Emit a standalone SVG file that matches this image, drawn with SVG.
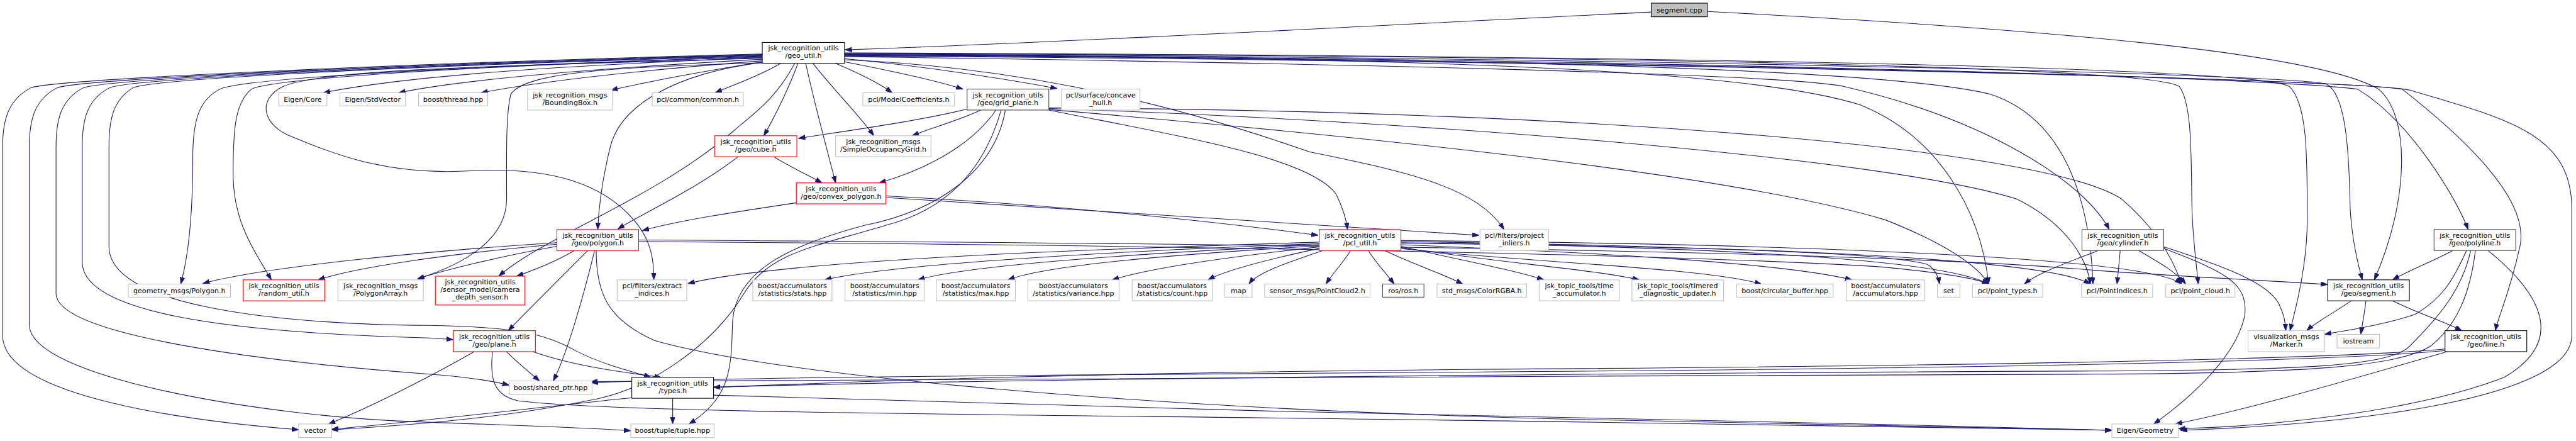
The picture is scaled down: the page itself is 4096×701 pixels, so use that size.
<svg xmlns="http://www.w3.org/2000/svg" width="4096" height="701" viewBox="0 0 4096 701">
<style>
.e path{fill:none;stroke:#191970;stroke-width:1.3;marker-end:url(#ah)}
.n rect{fill:#fff;stroke:#bfbfbf;stroke-width:1.3}
.n.r rect{stroke:#ff0000}
.n.k rect{stroke:#000}
.n.d rect{stroke:#404040}
.n.root rect{fill:#bfbfbf;stroke:#000}
text{font-family:"DejaVu Sans","Liberation Sans",sans-serif;font-size:13.33px;text-anchor:middle;fill:#000}
</style>
<defs>
<marker id="ah" markerUnits="userSpaceOnUse" markerWidth="14" markerHeight="10" refX="13" refY="4.5" orient="auto">
<path d="M0,0 L13,4.5 L0,9 z" fill="#191970" stroke="#191970" stroke-width="1"/>
</marker>
</defs>
<rect width="4096" height="701" fill="#fff"/>
<g transform="scale(0.83303)">
<g id="edges" class="e">
<path d="M3152,23 C2700,45 2100,78 1613,95"/>
<path d="M3259,22 C3900,55 4420,100 4540,170 C4600,220 4600,380 4532,534"/>
<path d="M1455,110 C1150,122 800,140 617,177"/>
<path d="M1455,113 C1200,127 900,148 761,177"/>
<path d="M1455,116 C1250,132 1050,152 918,177"/>
<path d="M1455,118 C1350,135 1250,153 1166,172"/>
<path d="M1490,121 C1450,145 1400,162 1365,177"/>
<path d="M1523,121 C1505,170 1480,220 1458,259"/>
<path d="M1538,121 C1555,200 1580,290 1595,349"/>
<path d="M1552,121 C1590,170 1640,220 1668,259"/>
<path d="M1595,121 C1640,140 1680,160 1703,177"/>
<path d="M1612,118 C1700,135 1790,155 1838,170"/>
<path d="M1612,112 C1750,125 1920,150 2018,169"/>
<path d="M1455,119 C1290,140 1185,200 1165,280 C1150,340 1143,390 1141,438"/>
<path d="M1517,121 C1480,190 1440,215 1400,250 C1250,380 1040,450 952,527"/>
<path d="M1455,108 C900,125 460,150 420,170 C380,190 368,230 368,300 C368,400 362,480 345,542"/>
<path d="M1455,109 C900,125 520,150 480,170 C450,195 445,240 445,330 C445,420 480,470 518,534"/>
<path d="M1455,120 C1150,128 1000,140 975,180 C965,220 967,300 967,380 C967,450 900,500 797,532"/>
<path d="M1455,103 C800,120 120,150 60,167 C15,190 5,230 5,280 L5,640 C5,760 380,805 570,820"/>
<path d="M1455,104 C800,121 170,150 110,167 C65,190 56,230 56,280 L56,620 C56,720 500,795 800,805 C1000,812 1150,818 1204,822"/>
<path d="M1455,105 C800,122 220,150 160,167 C115,190 107,230 107,280 L107,560 C107,640 500,690 820,714 C900,720 940,727 972,735"/>
<path d="M1455,106 C800,123 260,150 210,167 C165,190 157,230 157,280 L157,500 C157,600 450,635 820,645 L865,648"/>
<path d="M1455,107 C800,124 300,150 255,167 C215,190 208,230 208,280 L208,470 C208,580 500,618 820,621 C980,624 1040,635 1100,670 C1160,700 1220,712 1242,720"/>
<path d="M1455,111 C1000,125 620,130 540,165 C490,190 500,240 560,262 C650,300 750,335 900,326 C1050,318 1150,350 1210,420 C1245,460 1248,500 1248,534"/>
<path d="M1612,114 C2000,130 2300,220 2500,290 C2700,330 2820,360 2871,438"/>
<path d="M1612,104 C2500,110 3300,120 3550,200 C3700,260 3780,400 3796,542"/>
<path d="M1612,105 C2800,110 3600,130 3800,180 C3950,230 3990,400 3995,542"/>
<path d="M1612,102 C3000,106 4100,125 4160,165 C4185,200 4182,300 4184,400 C4186,460 4192,500 4196,542"/>
<path d="M1612,101 C3000,105 4300,125 4370,165 C4405,200 4404,300 4404,420 C4404,500 4385,580 4371,631"/>
<path d="M1612,103 C3000,108 4350,140 4440,160 C4480,180 4484,300 4486,400 C4490,460 4500,500 4509,534"/>
<path d="M1612,104 C3000,110 4300,145 4500,170 C4600,230 4690,380 4711,438"/>
<path d="M1612,106 C3000,112 4450,150 4585,170 C4700,260 4830,380 4810,470 C4790,560 4770,600 4763,631"/>
<path d="M1612,107 C3000,115 4500,150 4600,172 C4800,230 4909,260 4909,400 L4909,640 C4909,760 4500,810 4162,821"/>
<path d="M1612,108 C2500,120 3400,140 3520,165 C3800,230 3980,350 4026,438"/>
<path d="M1846,208 C1750,232 1600,252 1524,264"/>
<path d="M1872,210 C1830,230 1775,245 1741,259"/>
<path d="M1901,210 C1860,270 1780,320 1678,349"/>
<path d="M1911,210 C1880,320 1810,400 1690,430 C1560,470 1470,480 1420,560 C1360,660 1240,740 1140,761 C1000,790 850,808 633,820"/>
<path d="M1919,210 C1900,320 1800,400 1650,430 C1500,470 1400,520 1398,620 C1396,700 1395,760 1315,809"/>
<path d="M2002,210 C2250,260 2500,300 2550,370 C2565,400 2570,420 2572,438"/>
<path d="M2002,209 C2600,260 3300,330 3600,420 C3700,460 3770,500 3796,542"/>
<path d="M2002,207 C2700,230 3600,300 3850,380 C3950,430 3985,500 3990,542"/>
<path d="M2002,206 C3000,210 3900,280 4050,380 C4120,440 4150,500 4164,542"/>
<path d="M1520,387 C1400,405 1300,420 1226,440"/>
<path d="M1691,374 C2000,390 2300,420 2516,449"/>
<path d="M1691,377 C2100,400 2500,430 2823,449"/>
<path d="M1409,299 C1330,360 1240,400 1179,437"/>
<path d="M1477,299 C1510,320 1545,335 1569,349"/>
<path d="M1063,463 C800,480 500,510 387,541"/>
<path d="M1063,466 C850,485 680,510 607,534"/>
<path d="M1063,470 C950,490 850,515 797,532"/>
<path d="M1096,478 C1060,500 1020,515 986,527"/>
<path d="M1122,478 C1060,540 1000,600 970,631"/>
<path d="M1135,478 C1110,580 1080,680 1056,727"/>
<path d="M1219,458 C2500,465 3600,480 4000,516 C4200,530 4380,538 4443,543"/>
<path d="M1138,478 C1138,560 1160,610 1250,650 C1500,720 2200,780 3000,800 C3600,812 3900,818 4031,821"/>
<path d="M1219,461 C2500,470 3300,490 3600,510 C3700,520 3770,530 3796,542"/>
<path d="M2518,462 C2100,475 1500,495 1313,541"/>
<path d="M2518,465 C2100,480 1700,505 1574,534"/>
<path d="M2518,467 C2200,482 1850,505 1752,534"/>
<path d="M2518,469 C2250,485 2000,505 1924,534"/>
<path d="M2518,471 C2350,490 2200,510 2123,534"/>
<path d="M2518,474 C2420,495 2340,515 2306,534"/>
<path d="M2525,478 C2460,500 2400,520 2384,542"/>
<path d="M2578,478 C2565,500 2545,520 2531,542"/>
<path d="M2612,478 C2625,500 2645,520 2661,542"/>
<path d="M2643,478 C2700,505 2760,525 2792,542"/>
<path d="M2674,470 C2780,495 2890,515 2947,534"/>
<path d="M2674,472 C2850,500 3050,515 3129,534"/>
<path d="M2674,474 C2900,500 3250,510 3362,542"/>
<path d="M2674,467 C3000,480 3400,500 3535,534"/>
<path d="M2674,464 C3200,470 3600,480 3680,505 C3695,515 3700,528 3702,542"/>
<path d="M2674,463 C3200,470 3700,490 3796,542"/>
<path d="M2674,461 C3300,470 3900,490 3990,542"/>
<path d="M2674,459 C3400,465 4100,490 4164,542"/>
<path d="M4005,478 C3950,500 3890,520 3864,542"/>
<path d="M4047,478 C4045,500 4043,520 4041,542"/>
<path d="M4082,478 C4120,500 4155,520 4172,542"/>
<path d="M4130,471 C4250,510 4330,540 4350,580 C4360,600 4362,615 4363,631"/>
<path d="M4130,474 C4250,520 4290,540 4285,600 C4270,680 4180,760 4111,809"/>
<path d="M4488,574 C4450,600 4420,615 4403,631"/>
<path d="M4516,574 C4513,600 4509,620 4506,638"/>
<path d="M4567,574 C4620,600 4670,615 4699,631"/>
<path d="M4682,478 C4640,500 4590,520 4567,534"/>
<path d="M4708,478 C4680,540 4660,570 4610,600 C4550,620 4480,630 4437,638"/>
<path d="M4716,478 C4700,550 4660,600 4600,660 C4560,700 4400,705 4000,708 C3000,712 1800,725 1362,739"/>
<path d="M4725,478 C4715,560 4690,620 4640,660 C4580,700 4400,712 4000,714 C3000,720 1600,718 1128,728"/>
<path d="M4749,478 C4850,560 4900,650 4780,720 C4600,790 4300,815 4158,818"/>
<path d="M4671,671 C4500,720 4300,780 4152,809"/>
<path d="M4667,666 C4400,690 3500,700 2800,705 C2000,712 1600,730 1362,739"/>
<path d="M4667,669 C4400,695 3500,705 2800,710 C2000,716 1500,718 1128,730"/>
<path d="M1284,760 L1284,809"/>
<path d="M1206,759 C1000,780 800,805 633,819"/>
<path d="M1362,754 C2000,775 3000,800 3600,810 C3800,815 3950,820 4031,821"/>
<path d="M967,671 C985,690 1010,710 1030,727"/>
<path d="M1017,671 C1100,700 1200,712 1262,720"/>
<path d="M905,671 C820,720 700,780 627,809"/>
<path d="M940,671 C935,720 940,755 990,765 C1200,790 2000,790 3000,805 C3500,812 3900,818 4031,821"/>
</g>
<g id="segment_cpp" class="n root"><rect x="3152" y="6" width="107" height="26"/><text x="3205.5" y="23.5">segment.cpp</text></g>
<g id="geo_util" class="n k"><rect x="1455" y="81" width="157" height="40"/><text x="1533.5" y="96.5">jsk_recognition_utils</text><text x="1533.5" y="111">/geo_util.h</text></g>
<g id="eigen_core" class="n"><rect x="532" y="177" width="92" height="25"/><text x="578" y="194">Eigen/Core</text></g>
<g id="eigen_stdvector" class="n"><rect x="649" y="177" width="125" height="25"/><text x="711.5" y="194">Eigen/StdVector</text></g>
<g id="boost_thread" class="n"><rect x="799" y="177" width="132" height="25"/><text x="865" y="194">boost/thread.hpp</text></g>
<g id="bounding_box" class="n"><rect x="1007" y="170" width="162" height="40"/><text x="1088" y="185.5">jsk_recognition_msgs</text><text x="1088" y="200">/BoundingBox.h</text></g>
<g id="pcl_common" class="n"><rect x="1245" y="177" width="174" height="25"/><text x="1332" y="194">pcl/common/common.h</text></g>
<g id="model_coefficients" class="n"><rect x="1647" y="177" width="175" height="25"/><text x="1734.5" y="194">pcl/ModelCoefficients.h</text></g>
<g id="grid_plane" class="n d"><rect x="1846" y="170" width="156" height="40"/><text x="1924" y="185.5">jsk_recognition_utils</text><text x="1924" y="200">/geo/grid_plane.h</text></g>
<g id="concave_hull" class="n"><rect x="2026" y="170" width="150" height="40"/><text x="2101" y="185.5">pcl/surface/concave</text><text x="2101" y="200">_hull.h</text></g>
<g id="cube" class="n r"><rect x="1364" y="259" width="157" height="40"/><text x="1442.5" y="274.5">jsk_recognition_utils</text><text x="1442.5" y="289">/geo/cube.h</text></g>
<g id="simple_occupancy_grid" class="n"><rect x="1595" y="259" width="182" height="40"/><text x="1686" y="274.5">jsk_recognition_msgs</text><text x="1686" y="289">/SimpleOccupancyGrid.h</text></g>
<g id="convex_polygon" class="n r"><rect x="1520" y="349" width="171" height="40"/><text x="1605.5" y="364.5">jsk_recognition_utils</text><text x="1605.5" y="379">/geo/convex_polygon.h</text></g>
<g id="polygon" class="n r"><rect x="1063" y="438" width="156" height="40"/><text x="1141" y="453.5">jsk_recognition_utils</text><text x="1141" y="468">/geo/polygon.h</text></g>
<g id="pcl_util" class="n r"><rect x="2518" y="438" width="156" height="40"/><text x="2596" y="453.5">jsk_recognition_utils</text><text x="2596" y="468">/pcl_util.h</text></g>
<g id="project_inliers" class="n"><rect x="2825" y="438" width="131" height="40"/><text x="2890.5" y="453.5">pcl/filters/project</text><text x="2890.5" y="468">_inliers.h</text></g>
<g id="cylinder" class="n d"><rect x="3974" y="438" width="156" height="40"/><text x="4052" y="453.5">jsk_recognition_utils</text><text x="4052" y="468">/geo/cylinder.h</text></g>
<g id="polyline" class="n d"><rect x="4646" y="438" width="156" height="40"/><text x="4724" y="453.5">jsk_recognition_utils</text><text x="4724" y="468">/geo/polyline.h</text></g>
<g id="geometry_polygon" class="n"><rect x="245" y="542" width="195" height="25"/><text x="342.5" y="559">geometry_msgs/Polygon.h</text></g>
<g id="random_util" class="n r"><rect x="464" y="534" width="156" height="40"/><text x="542" y="549.5">jsk_recognition_utils</text><text x="542" y="564">/random_util.h</text></g>
<g id="polygon_array" class="n"><rect x="645" y="534" width="163" height="40"/><text x="726.5" y="549.5">jsk_recognition_msgs</text><text x="726.5" y="564">/PolygonArray.h</text></g>
<g id="camera_depth_sensor" class="n r"><rect x="831" y="527" width="171" height="55"/><text x="916.5" y="542.5">jsk_recognition_utils</text><text x="916.5" y="557">/sensor_model/camera</text><text x="916.5" y="571.5">_depth_sensor.h</text></g>
<g id="extract_indices" class="n"><rect x="1178" y="534" width="133" height="40"/><text x="1244.5" y="549.5">pcl/filters/extract</text><text x="1244.5" y="564">_indices.h</text></g>
<g id="acc_stats" class="n"><rect x="1437" y="534" width="151" height="40"/><text x="1512.5" y="549.5">boost/accumulators</text><text x="1512.5" y="564">/statistics/stats.hpp</text></g>
<g id="acc_min" class="n"><rect x="1613" y="534" width="151" height="40"/><text x="1688.5" y="549.5">boost/accumulators</text><text x="1688.5" y="564">/statistics/min.hpp</text></g>
<g id="acc_max" class="n"><rect x="1787" y="534" width="151" height="40"/><text x="1862.5" y="549.5">boost/accumulators</text><text x="1862.5" y="564">/statistics/max.hpp</text></g>
<g id="acc_variance" class="n"><rect x="1962" y="534" width="174" height="40"/><text x="2049" y="549.5">boost/accumulators</text><text x="2049" y="564">/statistics/variance.hpp</text></g>
<g id="acc_count" class="n"><rect x="2161" y="534" width="153" height="40"/><text x="2237.5" y="549.5">boost/accumulators</text><text x="2237.5" y="564">/statistics/count.hpp</text></g>
<g id="map" class="n"><rect x="2338" y="542" width="52" height="25"/><text x="2364" y="559">map</text></g>
<g id="point_cloud2" class="n"><rect x="2414" y="542" width="201" height="25"/><text x="2514.5" y="559">sensor_msgs/PointCloud2.h</text></g>
<g id="ros" class="n d"><rect x="2639" y="542" width="79" height="25"/><text x="2678.5" y="559">ros/ros.h</text></g>
<g id="color_rgba" class="n"><rect x="2743" y="542" width="171" height="25"/><text x="2828.5" y="559">std_msgs/ColorRGBA.h</text></g>
<g id="time_accumulator" class="n"><rect x="2938" y="534" width="153" height="40"/><text x="3014.5" y="549.5">jsk_topic_tools/time</text><text x="3014.5" y="564">_accumulator.h</text></g>
<g id="timered_updater" class="n"><rect x="3115" y="534" width="175" height="40"/><text x="3202.5" y="549.5">jsk_topic_tools/timered</text><text x="3202.5" y="564">_diagnostic_updater.h</text></g>
<g id="circular_buffer" class="n"><rect x="3315" y="542" width="184" height="25"/><text x="3407" y="559">boost/circular_buffer.hpp</text></g>
<g id="accumulators" class="n"><rect x="3524" y="534" width="150" height="40"/><text x="3599" y="549.5">boost/accumulators</text><text x="3599" y="564">/accumulators.hpp</text></g>
<g id="set" class="n"><rect x="3698" y="542" width="43" height="25"/><text x="3719.5" y="559">set</text></g>
<g id="point_types" class="n"><rect x="3765" y="542" width="134" height="25"/><text x="3832" y="559">pcl/point_types.h</text></g>
<g id="point_indices" class="n"><rect x="3973" y="542" width="136" height="25"/><text x="4041" y="559">pcl/PointIndices.h</text></g>
<g id="point_cloud" class="n"><rect x="4134" y="542" width="132" height="25"/><text x="4200" y="559">pcl/point_cloud.h</text></g>
<g id="segment_h" class="n k"><rect x="4443" y="534" width="156" height="40"/><text x="4521" y="549.5">jsk_recognition_utils</text><text x="4521" y="564">/geo/segment.h</text></g>
<g id="plane" class="n r"><rect x="865" y="631" width="157" height="40"/><text x="943.5" y="646.5">jsk_recognition_utils</text><text x="943.5" y="661">/geo/plane.h</text></g>
<g id="marker" class="n"><rect x="4291" y="631" width="146" height="40"/><text x="4364" y="646.5">visualization_msgs</text><text x="4364" y="661">/Marker.h</text></g>
<g id="iostream" class="n"><rect x="4461" y="638" width="81" height="26"/><text x="4501.5" y="655.5">iostream</text></g>
<g id="line" class="n k"><rect x="4667" y="631" width="156" height="40"/><text x="4745" y="646.5">jsk_recognition_utils</text><text x="4745" y="661">/geo/line.h</text></g>
<g id="shared_ptr" class="n"><rect x="972" y="727" width="158" height="26"/><text x="1051" y="744.5">boost/shared_ptr.hpp</text></g>
<g id="types" class="n k"><rect x="1206" y="720" width="156" height="40"/><text x="1284" y="735.5">jsk_recognition_utils</text><text x="1284" y="750">/types.h</text></g>
<g id="vector" class="n"><rect x="570" y="809" width="63" height="26"/><text x="601.5" y="826.5">vector</text></g>
<g id="tuple" class="n"><rect x="1204" y="809" width="159" height="26"/><text x="1283.5" y="826.5">boost/tuple/tuple.hpp</text></g>
<g id="eigen_geometry" class="n"><rect x="4031" y="809" width="127" height="26"/><text x="4094.5" y="826.5">Eigen/Geometry</text></g>
</g>
</svg>
